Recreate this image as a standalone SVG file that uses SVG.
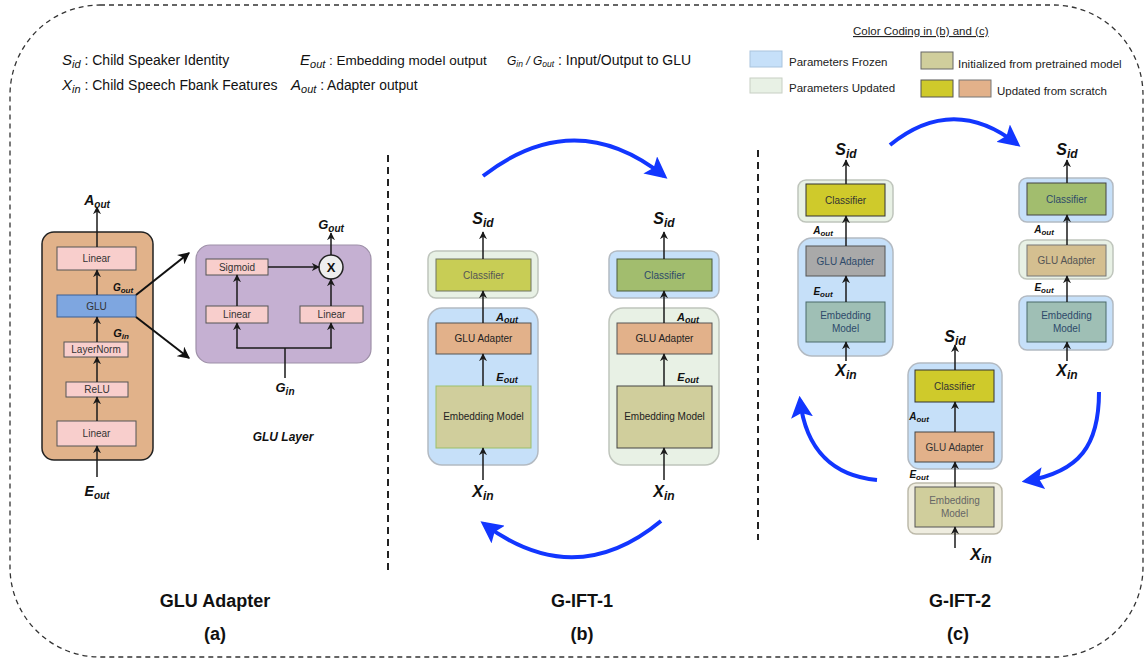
<svg xmlns="http://www.w3.org/2000/svg" width="1145" height="662" viewBox="0 0 1145 662">
<defs>
<style>
text{font-family:"Liberation Sans",Arial,Helvetica,sans-serif}
.t10{font-size:10px;fill:#333;text-anchor:middle}
.lbl{font-weight:bold;font-style:italic;text-anchor:middle;fill:#111}
.leg{font-size:14px;fill:#111}
.leg2{font-size:11.5px;fill:#222}
.it{font-style:italic}
.title{font-size:18px;font-weight:bold;text-anchor:middle;fill:#111}
.con{stroke:#1a1a1a;stroke-width:1.5;fill:none;marker-end:url(#ah)}
.big{stroke:#111;stroke-width:2;fill:none;marker-end:url(#bah)}
.blue{stroke:#1236FF;stroke-width:4;fill:none;marker-end:url(#bh)}
.pink{fill:#F8CECC;stroke:#555;stroke-width:1}
.cb{fill:#C6E0F9;stroke:#B3BAC2;stroke-width:1.5}
.cg{fill:#E8F1E5;stroke:#BFC5BC;stroke-width:1.5}
.vdash{stroke:#222;stroke-width:2;stroke-dasharray:7 5}
</style>
<marker id="ah" viewBox="0 0 10 10" refX="9" refY="5" markerWidth="8" markerHeight="8" markerUnits="userSpaceOnUse" orient="auto">
<path d="M0,0 L10,5 L0,10 L3,5 z" fill="#1a1a1a"/>
</marker>
<marker id="bah" viewBox="0 0 10 10" refX="9" refY="5" markerWidth="12" markerHeight="12" markerUnits="userSpaceOnUse" orient="auto">
<path d="M0,0 L10,5 L0,10 L3,5 z" fill="#111"/>
</marker>
<marker id="bh" viewBox="0 0 10 10" refX="8" refY="5" markerWidth="22" markerHeight="22" markerUnits="userSpaceOnUse" orient="auto">
<path d="M0,0 L10,5 L0,10 L2,5 z" fill="#1236FF"/>
</marker>
</defs>
<rect width="1145" height="662" fill="#fff"/>
<rect x="10" y="5" width="1133" height="652" rx="90" fill="none" stroke="#333" stroke-width="1.3" stroke-dasharray="5 4"/>

<g id="legend-symbols">
<text x="62" y="65" class="leg"><tspan class="it" font-size="15">S</tspan><tspan class="it" font-size="11" dy="3">id</tspan><tspan dy="-3"> : Child Speaker Identity</tspan></text>
<text x="62" y="90" class="leg"><tspan class="it" font-size="15">X</tspan><tspan class="it" font-size="11" dy="3">in</tspan><tspan dy="-3"> : Child Speech Fbank Features</tspan></text>
<text x="300" y="65" class="leg" font-size="13.5" style="font-size:13.5px"><tspan class="it" font-size="15">E</tspan><tspan class="it" font-size="11" dy="3">out</tspan><tspan dy="-3"> : Embedding model output</tspan></text>
<text x="291" y="90" class="leg" style="font-size:13.8px"><tspan class="it" font-size="15">A</tspan><tspan class="it" font-size="11" dy="3">out</tspan><tspan dy="-3"> : Adapter output</tspan></text>
<text x="507" y="65" class="leg"><tspan class="it" font-size="12">G</tspan><tspan class="it" font-size="8.5" dy="2">in</tspan><tspan class="it" font-size="12" dy="-2"> / G</tspan><tspan class="it" font-size="8.5" dy="2">out</tspan><tspan dy="-2"> : Input/Output to GLU</tspan></text>
</g>

<g id="legend-colors">
<text x="853" y="35" font-size="11.5" fill="#222" text-decoration="underline">Color Coding in (b) and (c)</text>
<rect x="750" y="51" width="32" height="16" fill="#C6E0F9" stroke="#A9C4DD"/>
<text x="789" y="66" class="leg2">Parameters Frozen</text>
<rect x="750" y="78" width="32" height="15" fill="#E8F1E5" stroke="#C8CFC4"/>
<text x="789" y="92" class="leg2">Parameters Updated</text>
<rect x="921" y="52" width="32" height="17" fill="#D0CE9C" stroke="#666"/>
<text x="958" y="68" class="leg2">Initialized from pretrained model</text>
<rect x="921" y="80" width="32" height="17" fill="#CFCA2B" stroke="#555"/>
<rect x="959" y="80" width="32" height="17" fill="#E2B18A" stroke="#777"/>
<text x="997" y="95" class="leg2">Updated from scratch</text>
</g>

<g id="separators">
<line x1="388" y1="155" x2="388" y2="572" class="vdash"/>
<line x1="758" y1="150" x2="758" y2="540" class="vdash"/>
</g>

<!-- (a) GLU Adapter -->
<g id="glu-adapter">
<rect x="42" y="232" width="111" height="228" rx="12" fill="#E1B28A" stroke="#222" stroke-width="1.5"/>
<rect x="57" y="247" width="79" height="23" class="pink"/>
<text x="96.5" y="262" class="t10">Linear</text>
<rect x="57" y="295" width="79" height="22" fill="#7EA6E0" stroke="#3B5F93"/>
<text x="96.5" y="309.5" class="t10">GLU</text>
<rect x="64" y="342" width="64" height="15" class="pink"/>
<text x="96" y="353" class="t10">LayerNorm</text>
<rect x="66" y="382" width="62" height="15" class="pink"/>
<text x="97" y="393" class="t10">ReLU</text>
<rect x="57" y="421" width="79" height="25" class="pink"/>
<text x="96.5" y="437" class="t10">Linear</text>
</g>
<g id="glu-layer">
<rect x="196" y="245" width="175" height="118" rx="14" fill="#C5B0D2" stroke="#9E90A8" stroke-width="1.2"/>
<rect x="206" y="259" width="62" height="16" class="pink"/>
<text x="237" y="270.5" class="t10">Sigmoid</text>
<rect x="206" y="306" width="62" height="17" class="pink"/>
<text x="237" y="318" class="t10">Linear</text>
<rect x="300" y="306" width="63" height="17" class="pink"/>
<text x="331.5" y="318" class="t10">Linear</text>
<circle cx="331" cy="267" r="12" fill="#EEEEEE" stroke="#222" stroke-width="1.5"/>
<text x="331" y="272" font-size="13" font-weight="bold" text-anchor="middle" fill="#111">X</text>
</g>
<g id="labels-a">
<text x="97" y="205" class="lbl" font-size="14">A<tspan font-size="10" dy="3">out</tspan></text>
<text x="97" y="496" class="lbl" font-size="14">E<tspan font-size="10" dy="3">out</tspan></text>
<text x="123" y="291" class="lbl" font-size="10">G<tspan font-size="8" dy="2">out</tspan></text>
<text x="121" y="337" class="lbl" font-size="11">G<tspan font-size="8" dy="2">in</tspan></text>
<text x="331" y="229" class="lbl" font-size="13">G<tspan font-size="10" dy="3">out</tspan></text>
<text x="285" y="392" class="lbl" font-size="13">G<tspan font-size="10" dy="3">in</tspan></text>
<text x="283" y="441" class="lbl" font-size="12">GLU Layer</text>
<text x="215" y="607" class="title">GLU Adapter</text>
<text x="215" y="640" class="title">(a)</text>
</g>

<!-- (b) G-IFT-1 -->
<g id="b1-classifier">
<rect x="428" y="251" width="110" height="47" rx="8" class="cg"/>
<rect x="436" y="259" width="95" height="32" fill="#C8CD55" stroke="#6F7560"/>
<text x="483.5" y="278.5" class="t10" style="fill:#555">Classifier</text>
</g>
<g id="b1-encoder">
<rect x="428" y="308" width="110" height="157" rx="14" class="cb"/>
<rect x="436" y="323" width="95" height="31" fill="#E2B18A" stroke="#555"/>
<text x="483.5" y="342" class="t10" style="fill:#222">GLU Adapter</text>
<rect x="436" y="386" width="95" height="62" fill="#D0CE9C" stroke="#9BBF6A"/>
<text x="483.5" y="420" class="t10" style="fill:#222">Embedding Model</text>
</g>
<g id="b2-classifier">
<rect x="609" y="251" width="110" height="47" rx="8" class="cb"/>
<rect x="617" y="259" width="95" height="32" fill="#A2BD6E" stroke="#4A5A3A"/>
<text x="664.5" y="278.5" class="t10" style="fill:#2E4A6A">Classifier</text>
</g>
<g id="b2-encoder">
<rect x="609" y="308" width="110" height="157" rx="14" class="cg"/>
<rect x="617" y="323" width="95" height="31" fill="#E2B18A" stroke="#555"/>
<text x="664.5" y="342" class="t10" style="fill:#222">GLU Adapter</text>
<rect x="617" y="386" width="95" height="62" fill="#D0CE9C" stroke="#444"/>
<text x="664.5" y="420" class="t10" style="fill:#222">Embedding Model</text>
</g>
<g id="labels-b">
<text x="483" y="224" class="lbl" font-size="16">S<tspan font-size="12" dy="3">id</tspan></text>
<text x="507" y="321" class="lbl" font-size="11">A<tspan font-size="9" dy="2">out</tspan></text>
<text x="507" y="381" class="lbl" font-size="11">E<tspan font-size="9" dy="2">out</tspan></text>
<text x="483" y="497" class="lbl" font-size="16">X<tspan font-size="12" dy="3">in</tspan></text>
<text x="664" y="224" class="lbl" font-size="16">S<tspan font-size="12" dy="3">id</tspan></text>
<text x="688" y="321" class="lbl" font-size="11">A<tspan font-size="9" dy="2">out</tspan></text>
<text x="688" y="381" class="lbl" font-size="11">E<tspan font-size="9" dy="2">out</tspan></text>
<text x="664" y="497" class="lbl" font-size="16">X<tspan font-size="12" dy="3">in</tspan></text>
<text x="582" y="607" class="title">G-IFT-1</text>
<text x="582" y="640" class="title">(b)</text>
</g>

<!-- (c) G-IFT-2 -->
<g id="c1-classifier">
<rect x="798" y="180" width="95" height="42" rx="8" class="cg"/>
<rect x="806" y="184" width="79" height="32" fill="#CFCA2B" stroke="#333"/>
<text x="845.5" y="203.5" class="t10" style="fill:#333">Classifier</text>
</g>
<g id="c1-encoder">
<rect x="798" y="238" width="95" height="118" rx="14" class="cb"/>
<rect x="806" y="246" width="79" height="30" fill="#A9A9A9" stroke="#555"/>
<text x="845.5" y="264.5" class="t10" style="fill:#2E4A6A">GLU Adapter</text>
<rect x="806" y="302" width="79" height="40" fill="#9FBFB5" stroke="#4A6A6A"/>
<text x="845.5" y="319" class="t10" style="fill:#2E4A6A">Embedding</text>
<text x="845.5" y="332" class="t10" style="fill:#2E4A6A">Model</text>
</g>
<g id="c2-classifier">
<rect x="1019" y="178" width="94" height="44" rx="8" class="cb"/>
<rect x="1027" y="183" width="79" height="32" fill="#A2BD6E" stroke="#444"/>
<text x="1066.5" y="202.5" class="t10" style="fill:#2E4A6A">Classifier</text>
</g>
<g id="c2-adapter">
<rect x="1019" y="240" width="94" height="39" rx="8" class="cg"/>
<rect x="1027" y="245" width="79" height="31" fill="#D4BF90" stroke="#777"/>
<text x="1066.5" y="264" class="t10" style="fill:#555">GLU Adapter</text>
</g>
<g id="c2-embedding">
<rect x="1019" y="296" width="94" height="54" rx="8" class="cb"/>
<rect x="1027" y="302" width="79" height="40" fill="#9FBFB5" stroke="#4A6A6A"/>
<text x="1066.5" y="319" class="t10" style="fill:#2E4A6A">Embedding</text>
<text x="1066.5" y="332" class="t10" style="fill:#2E4A6A">Model</text>
</g>
<g id="c3-upper">
<rect x="908" y="363" width="94" height="106" rx="12" class="cb"/>
<rect x="915" y="370" width="79" height="32" fill="#CFCA2B" stroke="#333"/>
<text x="954.5" y="389.5" class="t10" style="fill:#333">Classifier</text>
<rect x="915" y="432" width="79" height="30" fill="#E2B18A" stroke="#444"/>
<text x="954.5" y="450.5" class="t10" style="fill:#333">GLU Adapter</text>
</g>
<g id="c3-embedding">
<rect x="908" y="483" width="94" height="51" rx="8" fill="#EFEDE0" stroke="#BDBAAA" stroke-width="1.5"/>
<rect x="915" y="487" width="79" height="40" fill="#D0CE9C" stroke="#555"/>
<text x="954.5" y="504" class="t10" style="fill:#666">Embedding</text>
<text x="954.5" y="517" class="t10" style="fill:#666">Model</text>
</g>
<g id="labels-c">
<text x="846" y="155" class="lbl" font-size="16">S<tspan font-size="12" dy="3">id</tspan></text>
<text x="823" y="234" class="lbl" font-size="10">A<tspan font-size="8" dy="2">out</tspan></text>
<text x="823" y="295" class="lbl" font-size="10">E<tspan font-size="8" dy="2">out</tspan></text>
<text x="846" y="376" class="lbl" font-size="16">X<tspan font-size="12" dy="3">in</tspan></text>
<text x="1067" y="155" class="lbl" font-size="16">S<tspan font-size="12" dy="3">id</tspan></text>
<text x="1044" y="233" class="lbl" font-size="10">A<tspan font-size="8" dy="2">out</tspan></text>
<text x="1044" y="291" class="lbl" font-size="10">E<tspan font-size="8" dy="2">out</tspan></text>
<text x="1067" y="376" class="lbl" font-size="16">X<tspan font-size="12" dy="3">in</tspan></text>
<text x="955" y="342" class="lbl" font-size="16">S<tspan font-size="12" dy="3">id</tspan></text>
<text x="919" y="420" class="lbl" font-size="10">A<tspan font-size="8" dy="2">out</tspan></text>
<text x="919" y="478" class="lbl" font-size="10">E<tspan font-size="8" dy="2">out</tspan></text>
<text x="981" y="560" class="lbl" font-size="16">X<tspan font-size="12" dy="3">in</tspan></text>
<text x="960" y="607" class="title">G-IFT-2</text>
<text x="958" y="640" class="title">(c)</text>
</g>

<g id="connectors">
<line x1="97" y1="477" x2="97" y2="446" class="con"/>
<line x1="97" y1="421" x2="97" y2="397" class="con"/>
<line x1="97" y1="382" x2="97" y2="357" class="con"/>
<line x1="97" y1="342" x2="97" y2="317" class="con"/>
<line x1="97" y1="295" x2="97" y2="270" class="con"/>
<line x1="97" y1="247" x2="97" y2="207" class="con"/>
<line x1="136" y1="295" x2="189" y2="253" class="big"/>
<line x1="136" y1="317" x2="189" y2="358" class="big"/>
<line x1="237" y1="306" x2="237" y2="275" class="con"/>
<line x1="268" y1="267" x2="319" y2="267" class="con"/>
<line x1="331" y1="306" x2="331" y2="279" class="con"/>
<line x1="331" y1="255" x2="331" y2="233" class="con"/>
<path d="M285,378 L285,348 M236.3,348 L331.7,348" stroke="#1a1a1a" stroke-width="1.5" fill="none"/>
<line x1="237" y1="348" x2="237" y2="323" class="con"/>
<line x1="331" y1="348" x2="331" y2="323" class="con"/>
<line x1="483" y1="259" x2="483" y2="232" class="con"/>
<line x1="483" y1="323" x2="483" y2="291" class="con"/>
<line x1="483" y1="386" x2="483" y2="354" class="con"/>
<line x1="483" y1="480" x2="483" y2="448" class="con"/>
<line x1="664" y1="259" x2="664" y2="232" class="con"/>
<line x1="664" y1="323" x2="664" y2="291" class="con"/>
<line x1="664" y1="386" x2="664" y2="354" class="con"/>
<line x1="664" y1="480" x2="664" y2="448" class="con"/>
<path d="M483,176 Q575,105 664,176" class="blue"/>
<path d="M661,521 Q575,592 484,524" class="blue"/>
<line x1="846" y1="184" x2="846" y2="160" class="con"/>
<line x1="846" y1="246" x2="846" y2="216" class="con"/>
<line x1="846" y1="302" x2="846" y2="276" class="con"/>
<line x1="846" y1="361" x2="846" y2="342" class="con"/>
<line x1="1067" y1="183" x2="1067" y2="160" class="con"/>
<line x1="1067" y1="245" x2="1067" y2="215" class="con"/>
<line x1="1067" y1="302" x2="1067" y2="276" class="con"/>
<line x1="1067" y1="361" x2="1067" y2="342" class="con"/>
<line x1="955" y1="370" x2="955" y2="345" class="con"/>
<line x1="955" y1="432" x2="955" y2="402" class="con"/>
<line x1="955" y1="487" x2="955" y2="462" class="con"/>
<line x1="955" y1="548" x2="955" y2="527" class="con"/>
<path d="M890,145 Q953,94 1017,144" class="blue"/>
<path d="M877,480 C835,476 806,452 800,400" class="blue"/>
<path d="M1099,392 C1099,445 1080,472 1026,481" class="blue"/>
</g>
</svg>
